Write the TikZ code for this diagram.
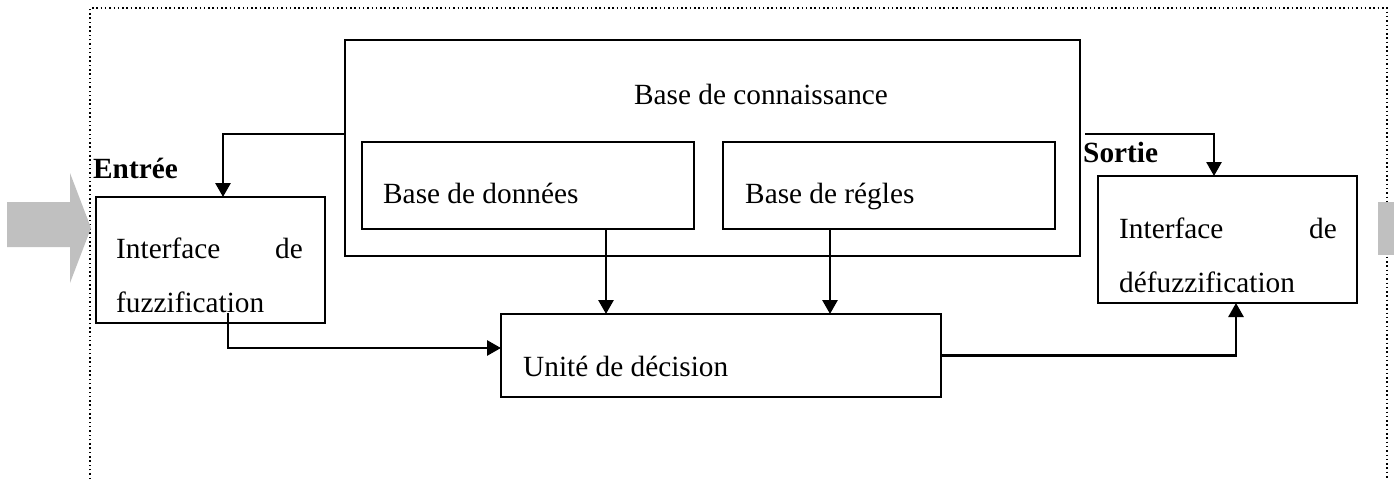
\documentclass[tikz,border=0pt]{standalone}
\usepackage{fontspec}
\setmainfont{Liberation Serif}
\usepackage{tikz}
\usetikzlibrary{positioning,arrows.meta,calc}
\definecolor{flechegris}{RGB}{192,192,192}
\tikzset{
  bloc/.style={rectangle,draw=black,line width=2.2pt,inner sep=0pt,outer sep=0pt,anchor=north west},
  txt/.style={inner sep=0pt,font=\fontsize{29.3}{35}\selectfont},
  titre/.style={inner sep=0pt,font=\fontsize{29.3}{35}\selectfont\bfseries},
  edge/.style={-{Triangle[length=14pt,width=15pt]},line width=2.8pt},
  cadre/.style={line width=1.5pt,dash pattern=on 1.5pt off 2.8pt}
}
\begin{document}
\begin{tikzpicture}[x=1pt,y=-1pt]
  \useasboundingbox (0,0) rectangle (1394,479);
  \draw[cadre] (90,479) -- (90,8) -- (1387,8) -- (1387,479);
  \fill[flechegris] (7,202) -- (70,202) -- (70,173) -- (91,228) -- (70,283) -- (70,247) -- (7,247) -- cycle;
  \fill[flechegris] (1378,202) rectangle (1394,255);
  \node[bloc,minimum width=735pt,minimum height=216pt] (bc) at (345,40) {};
  \node[bloc,minimum width=332pt,minimum height=87pt] (bdd) at (362,142) {};
  \node[bloc,minimum width=332pt,minimum height=87pt] (bdr) at (723,142) {};
  \node[bloc,minimum width=229pt,minimum height=126pt] (fuzz) at (96,197) {};
  \node[bloc,minimum width=259pt,minimum height=127pt] (defuzz) at (1098,176) {};
  \node[bloc,minimum width=440pt,minimum height=83pt] (ud) at (501,314) {};
  \node[txt,anchor=base] (bctxt) at (761,104) {Base de connaissance};
  \node[txt,anchor=base west] (bddtxt) at (383,203) {Base de données};
  \node[txt,anchor=base west] (bdrtxt) at (745,203) {Base de régles};
  \node[txt,anchor=base west] (udtxt) at (523,376) {Unité de décision};
  \node[txt,anchor=base west] (fuzza) at (116,258) {Interface};
  \node[txt,anchor=base east] (fuzzb) at (303,258) {de};
  \node[txt,anchor=base west] (fuzzc) at (116,312) {fuzzification};
  \node[txt,anchor=base west] (defuzza) at (1119,238) {Interface};
  \node[txt,anchor=base east] (defuzzb) at (1337,238) {de};
  \node[txt,anchor=base west] (defuzzc) at (1119,292) {défuzzification};
  \node[titre,anchor=base west] (entree) at (93,178) {Entrée};
  \node[titre,anchor=base west] (sortie) at (1083,162) {Sortie};
  \draw[edge] ([yshift=14pt]bc.west) -| ([xshift=12.5pt]fuzz.north);
  \draw[edge] ([xshift=5pt,yshift=14pt]bc.east) -| ([xshift=-13.5pt]defuzz.north);
  \draw[edge] ([xshift=78pt]bdd.south) -- ([xshift=78pt]bdd.south |- ud.north);
  \draw[edge] ([xshift=-59pt]bdr.south) -- ([xshift=-59pt]bdr.south |- ud.north);
  \draw[edge] ([xshift=17.5pt,yshift=10pt]fuzz.south) |- ([yshift=7.5pt]ud.west);
  \draw[edge] (ud.east) -| ([xshift=8.5pt]defuzz.south);
\end{tikzpicture}
\end{document}
